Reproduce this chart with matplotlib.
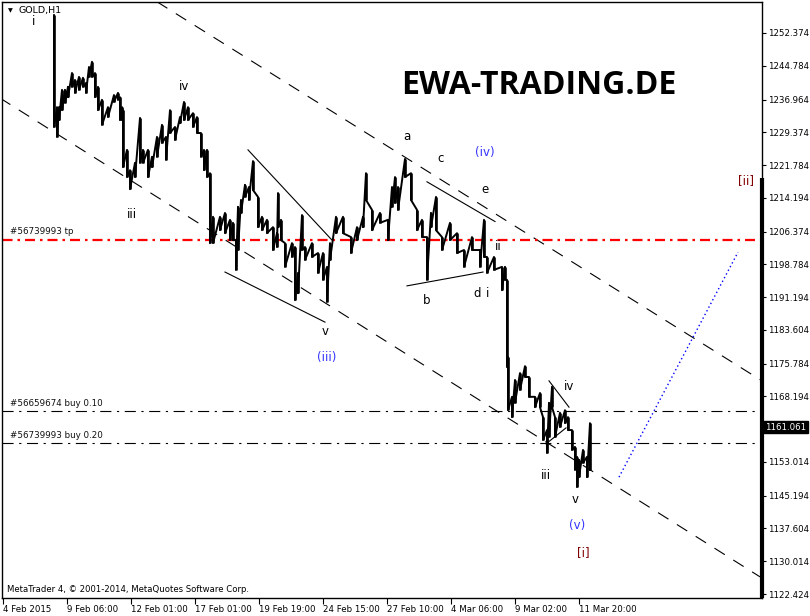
import matplotlib
matplotlib.use('Agg')
import matplotlib.pyplot as plt
import matplotlib.transforms as mtransforms

# GOLD H1, one bar per pixel; bar 0 = 4 Feb 2015
bars = [51, 54, 56, 59, 62, 65, 69, 72, 76, 80, 83, 86, 89, 92, 95, 99, 105, 111, 115, 117,
        119, 120, 124, 127, 132, 137, 140, 145, 149, 154, 159, 163, 167, 172, 177, 181, 185, 190, 194, 198,
        201, 204, 207, 210, 217, 222, 227, 230, 233, 235, 238, 242, 246, 250, 255, 259, 264, 270, 274, 275,
        278, 282, 289, 292, 295, 299, 302, 309, 315, 320, 324, 327, 333, 340, 348, 354, 360, 363, 369, 377,
        385, 389, 392, 395, 402, 408, 414, 419, 424, 428, 433, 439, 447, 454, 461, 469, 477, 481, 484, 491,
        499, 502, 504, 505, 509, 512, 517, 522, 526, 532, 537, 540, 544, 546, 549, 552, 557, 562, 565, 569,
        572, 574, 576, 580, 584, 587]
highs = [1256.5, 1235.2, 1235.2, 1239.2, 1239.2, 1239.9, 1243.1, 1241.5, 1242.2, 1242.0, 1240.8, 1244.5, 1245.7, 1243.1, 1239.9, 1236.9, 1235.2, 1238.0, 1238.5, 1237.5,
         1235.2, 1234.5, 1225.3, 1220.6, 1222.3, 1232.7, 1225.3, 1225.3, 1223.7, 1228.3, 1231.1, 1228.3, 1234.5, 1230.6, 1232.9, 1236.4, 1235.2, 1233.8, 1232.9, 1229.2,
         1225.3, 1225.3, 1219.9, 1209.8, 1209.8, 1210.7, 1209.1, 1208.4, 1204.4, 1212.1, 1213.7, 1217.2, 1216.7, 1222.7, 1214.4, 1209.8, 1209.1, 1207.4, 1206.0, 1215.3,
         1209.1, 1203.7, 1203.7, 1202.8, 1196.8, 1210.2, 1202.8, 1203.7, 1201.4, 1201.4, 1198.2, 1203.7, 1209.8, 1209.8, 1205.1, 1207.4, 1209.8, 1219.9, 1211.4, 1210.7,
         1209.1, 1216.7, 1219.0, 1216.7, 1223.2, 1219.9, 1211.4, 1209.1, 1205.1, 1210.7, 1214.4, 1205.1, 1208.4, 1206.0, 1202.1, 1205.1, 1202.1, 1209.1, 1200.5, 1200.5,
         1198.2, 1198.2, 1195.2, 1177.3, 1168.1, 1172.0, 1173.6, 1175.2, 1172.7, 1168.1, 1169.0, 1163.4, 1160.4, 1166.7, 1170.4, 1163.4, 1164.4, 1165.0, 1163.4, 1160.4,
         1156.5, 1154.2, 1153.5, 1155.8, 1154.2, 1162.0]
lows = [1230.6, 1228.3, 1232.2, 1234.5, 1236.2, 1237.5, 1239.9, 1238.5, 1239.2, 1239.9, 1238.5, 1242.2, 1242.2, 1237.5, 1234.5, 1231.1, 1232.9, 1236.4, 1236.9, 1232.2,
        1232.2, 1221.3, 1219.0, 1216.2, 1219.0, 1222.3, 1222.3, 1219.0, 1221.3, 1223.7, 1226.9, 1223.0, 1229.2, 1227.6, 1231.5, 1232.2, 1232.2, 1230.6, 1229.2, 1223.7,
        1220.6, 1219.0, 1203.7, 1203.7, 1206.7, 1206.0, 1204.4, 1204.4, 1197.5, 1202.1, 1210.7, 1214.4, 1213.7, 1216.0, 1207.4, 1206.7, 1206.0, 1202.1, 1202.8, 1207.4,
        1204.4, 1198.2, 1200.5, 1190.5, 1192.1, 1202.1, 1199.8, 1200.5, 1196.8, 1195.2, 1190.1, 1199.8, 1206.0, 1206.0, 1201.4, 1204.4, 1207.4, 1213.7, 1206.7, 1208.4,
        1204.4, 1212.1, 1213.0, 1211.4, 1219.0, 1213.7, 1206.7, 1205.1, 1195.2, 1207.4, 1206.7, 1202.1, 1204.4, 1201.4, 1198.2, 1202.1, 1198.2, 1200.5, 1196.8, 1197.5,
        1192.8, 1195.2, 1175.0, 1165.0, 1163.4, 1166.7, 1169.7, 1172.7, 1168.1, 1165.7, 1165.7, 1158.1, 1155.1, 1158.8, 1165.7, 1158.8, 1161.1, 1162.0, 1160.4, 1155.8,
        1151.2, 1147.2, 1149.5, 1152.8, 1149.5, 1151.2]
last_price = 1161.061

time_ticks = [0, 64, 128, 192, 256, 320, 384, 448, 512, 576]
time_labels = ['4 Feb 2015', '9 Feb 06:00', '12 Feb 01:00', '17 Feb 01:00', '19 Feb 19:00',
               '24 Feb 15:00', '27 Feb 10:00', '4 Mar 06:00', '9 Mar 02:00', '11 Mar 20:00']
price_ticks = [1252.374, 1244.784, 1236.964, 1229.374, 1221.784, 1214.194, 1206.374, 1198.784, 1191.194,
               1183.604, 1175.784, 1168.194, 1153.014, 1145.194, 1137.604, 1130.014, 1122.424]

# trend lines drawn on the chart: (bar, price) end points
channel_low = [(-3, 1237.3), (757, 1126.4)]
channel_high = [(154, 1259.6), (759, 1171.8)]
wedge_top = [(245, 1225.3), (329, 1204.4)]
wedge_bottom = [(222, 1197.0), (322, 1185.4)]
tri_top = [(424, 1217.9), (492, 1208.7)]
tri_bottom = [(404, 1193.8), (480, 1197.0)]
iv_top = [(546, 1171.8), (566, 1165.7)]
iv_bottom = [(543, 1157.2), (563, 1160.9)]
projection = [(616, 1149.5), (735, 1201.6)]

tp_level = [1204.77, 1204.31]
buy_levels = [1164.89, 1157.47]
order_labels = ['#56739993 tp', '#56659674 buy 0.10', '#56739993 buy 0.20']

wave_labels = [('i', 31, 1255.0, 'k'), ('iv', 181, 1239.9, 'k'), ('iii', 129, 1210.4, 'k'),
               ('v', 322, 1183.3, 'k'), ('(iii)', 324, 1177.1, '#3333ff'),
               ('a', 404, 1228.3, 'k'), ('c', 438, 1223.2, 'k'), ('(iv)', 482, 1224.8, '#3333ff'),
               ('e', 482, 1216.2, 'k'), ('b', 424, 1190.3, 'k'), ('d', 474, 1192.1, 'k'),
               ('i', 485, 1192.1, 'k'), ('ii', 495, 1203.0, 'k'),
               ('iv', 566, 1170.6, 'k'), ('iii', 543, 1149.8, 'k'), ('v', 572, 1144.2, 'k'),
               ('(v)', 574, 1138.4, '#3333ff'), ('[i]', 580, 1132.1, '#800000'),
               ('[ii]', 743, 1218.3, '#800000')]

plt.rcParams['font.family'] = ['DejaVu Sans']

fig = plt.figure(figsize=(8.1, 6.16), dpi=100)
ax = fig.add_axes([2 / 810, 18 / 616, 760 / 810, 596 / 616])
ax.set_xlim(-1, 759)
ax.set_ylim(1121.5, 1259.55)

# price path: high -> low on each bar, then up to the next bar's high
px, py = [], []
for b, h, l in zip(bars, highs, lows):
    px += [b, b]
    py += [h, l]
px.append(bars[-1]); py.append(last_price)
ax.plot(px, py, color='black', lw=1.4, zorder=5)
ax.vlines(bars, lows, highs, color='black', lw=1.9, zorder=5)

long_dash = dict(color='black', lw=0.8, dashes=(11, 9))
for seg in (channel_low, channel_high):
    ax.plot([seg[0][0], seg[1][0]], [seg[0][1], seg[1][1]], **long_dash)
for seg in (wedge_top, wedge_bottom, tri_top, tri_bottom, iv_top, iv_bottom):
    ax.plot([seg[0][0], seg[1][0]], [seg[0][1], seg[1][1]], color='black', lw=0.8)
ax.plot([projection[0][0], projection[1][0]], [projection[0][1], projection[1][1]],
        color='#0000ff', lw=1, dashes=(1, 2))

ax.axhline(tp_level[0], color='red', lw=0.9, dashes=(8, 4, 2, 4))
ax.axhline(tp_level[1], color='red', lw=0.9, dashes=(8, 4, 2, 4))
for lvl in buy_levels:
    ax.axhline(lvl, color='black', lw=0.8, dashes=(10, 5, 2, 5))
for lbl, lvl in zip(order_labels, [tp_level[0]] + buy_levels):
    ax.text(7, lvl + 0.6, lbl, fontsize=6.3, va='bottom', ha='left', color='#111111')

for txt, b, p, c in wave_labels:
    ax.text(b, p, txt, fontsize=8.5, ha='center', va='center', color=c)

ax.text(536, 1240.3, 'EWA-TRADING.DE', fontsize=23, fontweight='bold',
        family='Open Sans', ha='center', va='center', color='black')

ax.text(5 / 760, 8 / 596, 'MetaTrader 4, \u00a9 2001-2014, MetaQuotes Software Corp.',
        transform=ax.transAxes, fontsize=6.1, va='center', ha='left')
ax.text(6 / 760, 1 - 9 / 596, '\u25bc', transform=ax.transAxes, fontsize=4.5, va='center', ha='left')
ax.text(17 / 760, 1 - 9 / 596, 'GOLD,H1', transform=ax.transAxes, fontsize=6.8, va='center', ha='left')

# axes
ax.set_xticks(time_ticks)
ax.set_xticklabels(time_labels, fontsize=6.2)
for t in ax.get_xticklabels():
    t.set_ha('left')
ax.tick_params(axis='x', direction='out', length=4, width=0.8, pad=1)
ax.yaxis.tick_right()
ax.set_yticks(price_ticks)
ax.set_yticklabels(['%.3f' % v for v in price_ticks], fontsize=6.2)
ax.tick_params(axis='y', direction='out', length=3, width=0.8, pad=1.5)
for s in ax.spines.values():
    s.set_linewidth(1)
    s.set_color('black')

trans = mtransforms.blended_transform_factory(ax.transAxes, ax.transData)
ax.plot([1, 1], [1218.8, 1121.5], transform=trans, color='black', lw=3, clip_on=False, solid_capstyle='butt')
ax.text(1.004, last_price, '%.3f' % last_price, transform=trans, fontsize=6.2, color='white',
        va='center', ha='left', bbox=dict(facecolor='black', edgecolor='black', pad=1.2))

fig.savefig('out.png', dpi=100)
